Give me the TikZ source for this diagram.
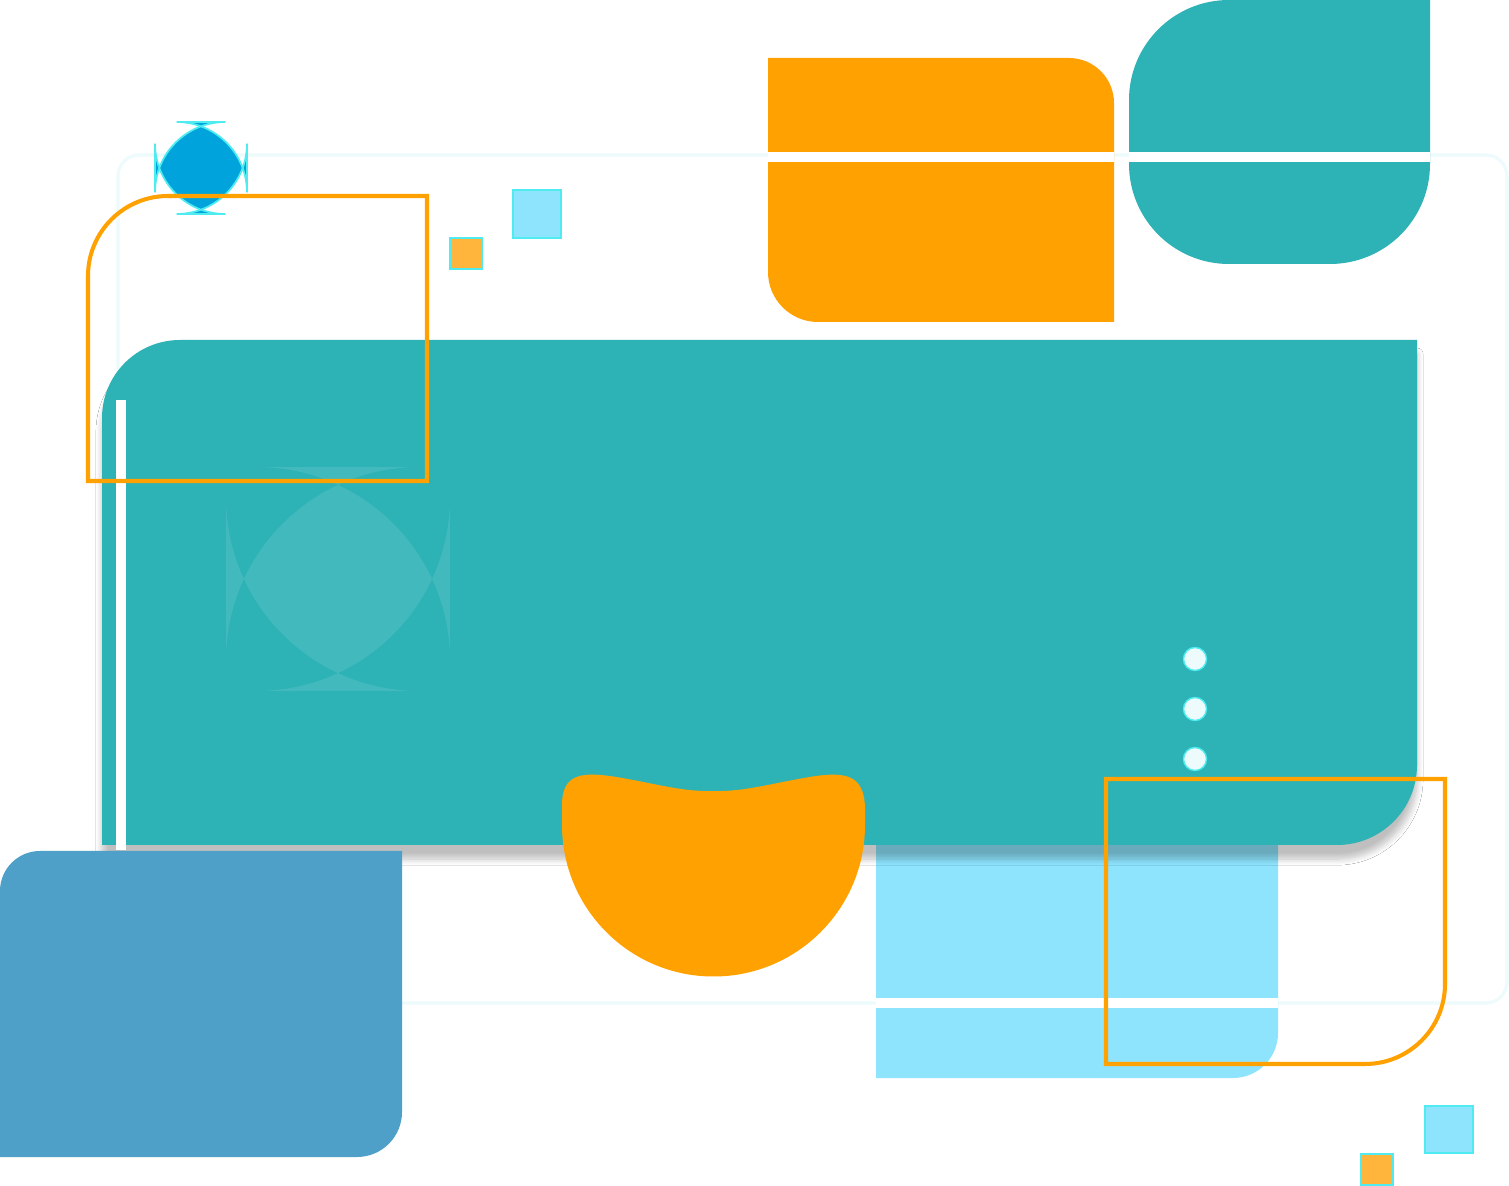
\documentclass[tikz,border=0pt]{standalone}
\usetikzlibrary{shadows.blur}
\definecolor{teal1}{HTML}{2DB2B5}
\definecolor{orng}{HTML}{FFA100}
\definecolor{lblue}{HTML}{8EE4FD}
\definecolor{cyanedge}{HTML}{4EECF0}
\definecolor{sblue}{HTML}{4FA0C8}
\definecolor{dblue}{HTML}{00A3DC}
\definecolor{faint}{HTML}{EEFBFC}
\definecolor{sorng}{HTML}{FFB43C}
\tikzset{outl/.style={draw=orng,line width=1.15pt},
 sq/.style={draw=cyanedge,line width=0.5pt}}
\begin{document}
\begin{tikzpicture}[x=0.01cm,y=-0.01cm]
\useasboundingbox (0,0) rectangle (1509,1186);
\fill[white] (0,0) rectangle (1509,1186);
% faint frame
\draw[faint,line width=0.9pt,rounded corners=6] (118,155) rectangle (1507,1003);
% light blue
\fill[lblue] (876,845)--(1278,845)--(1278,1033) arc(0:90:45)--(876,1078)--cycle;
\fill[white] (876,998) rectangle (1278,1008);
% main teal
\fill[teal1,blur shadow={shadow blur steps=8,shadow xshift=0pt,shadow yshift=-4pt,shadow opacity=25}] (180,340)--(1417,340)--(1417,765) arc(0:90:80)--(102,845)--(102,418) arc(180:270:78)--cycle;
\fill[white] (116,400) rectangle (126,850);
\fill[white,opacity=0.1,rounded corners=55] (226,467) rectangle (450,691);
\foreach \yy/\nm in {659/d1,709/d2,759/d3}
  \node[circle,fill=faint,draw=cyanedge,line width=0.4pt,minimum size=0.23cm,inner sep=0] (\nm) at (1195,\yy) {};
% orange top
\fill[orng] (768,58)--(1069,58) arc(270:360:45)--(1114,322)--(818,322) arc(90:180:50)--cycle;
\fill[white] (768,152) rectangle (1114,162);
% teal top right
\fill[teal1] (1229,0)--(1430,0)--(1430,164) arc(0:90:100)--(1229,264) arc(90:180:100)--(1129,100) arc(180:270:100)--cycle;
\fill[white] (1129,152) rectangle (1430,162);
% bottom-left blue
\fill[sblue] (40,851)--(402,851)--(402,1112) arc(0:90:45)--(0,1157)--(0,891) arc(180:270:40)--cycle;
% blob
\fill[orng] (562,825)--(562,805) .. controls (562,775) and (580,772) .. (610,776) .. controls (650,782) and (680,792) .. (713,791) .. controls (746,792) and (776,782) .. (816,776) .. controls (846,772) and (865,775) .. (865,810) -- (865,825) arc(0:180:151.5) -- cycle;
% blue square
\fill[dblue,draw=cyanedge,line width=0.5pt,rounded corners=20] (155,122) rectangle (247,214);
% orange outlines
\draw[outl] (427,196)--(427,481)--(88,481)--(88,276) arc(180:270:80)--cycle;
\draw[outl] (1106,779)--(1445,779)--(1445,984) arc(0:90:80)--(1106,1064)--cycle;
% small squares
\filldraw[sq,fill=sorng] (450,238) rectangle (482,269);
\filldraw[sq,fill=lblue] (513,190) rectangle (561,238);
\filldraw[sq,fill=lblue] (1425,1106) rectangle (1473,1153);
\filldraw[sq,fill=sorng] (1361,1154) rectangle (1393,1185);
\end{tikzpicture}
\end{document}
